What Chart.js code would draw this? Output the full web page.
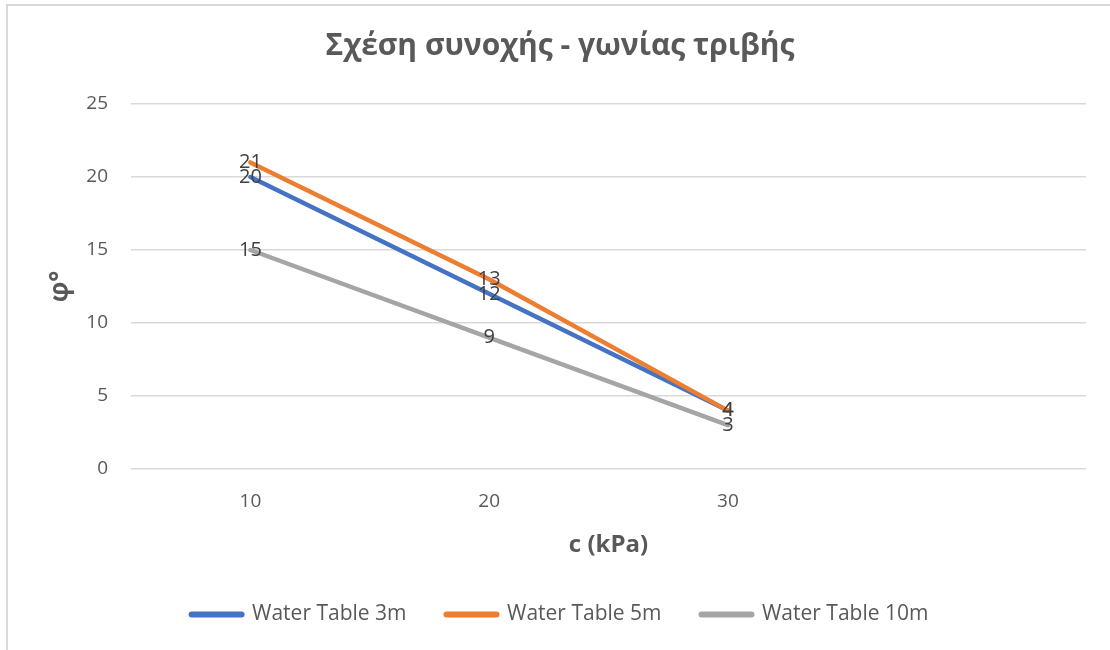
<!DOCTYPE html>
<html>
<head>
<meta charset="utf-8">
<script src="https://cdn.jsdelivr.net/npm/chart.js@4.4.1/dist/chart.umd.min.js"></script>
<style>
  html, body { margin: 0; padding: 0; background: #ffffff; }
  #wrap { width: 1110px; height: 650px; position: relative; }
</style>
</head>
<body>
<div id="wrap"><canvas id="chart" width="1110" height="650"></canvas></div>
<script>
// Cohesion c (kPa) on the category axis; the last slot is left empty.
const categories = ['10', '20', '30', ''];

// Friction angle φ° for each water table depth
const waterTable3m = [20, 12, 4];
const waterTable5m = [21, 13, 4];
const waterTable10m = [15, 9, 3];

const seriesNames = ['Water Table 3m', 'Water Table 5m', 'Water Table 10m'];
const seriesColors = ['#4472C4', '#ED7D31', '#A5A5A5'];

const yMin = 0;
const yMax = 25;
const yStep = 5;

const FONT = 'Open Sans';

// White background plus the light outer frame of the chart object
const framePlugin = {
  id: 'frame',
  beforeDraw(chart) {
    const ctx = chart.ctx;
    ctx.save();
    ctx.fillStyle = '#ffffff';
    ctx.fillRect(0, 0, chart.width, chart.height);
    ctx.strokeStyle = '#d9d9d9';
    ctx.lineWidth = 2;
    ctx.strokeRect(7, 5, chart.width + 20, chart.height + 20);
    ctx.restore();
  }
};

// Value labels centred on every point
const valueLabelPlugin = {
  id: 'valueLabels',
  afterDatasetsDraw(chart) {
    const ctx = chart.ctx;
    ctx.save();
    ctx.font = '20px "' + FONT + '"';
    ctx.fillStyle = '#404040';
    ctx.textAlign = 'center';
    ctx.textBaseline = 'middle';
    chart.data.datasets.forEach((ds, di) => {
      const meta = chart.getDatasetMeta(di);
      meta.data.forEach((pt, i) => {
        const v = ds.data[i];
        if (v === null || v === undefined) return;
        ctx.fillText(String(v), pt.x, pt.y);
      });
    });
    ctx.restore();
  }
};

const seriesData = [waterTable3m, waterTable5m, waterTable10m];

const datasets = seriesData.map((values, i) => ({
  label: seriesNames[i],
  data: values,
  borderColor: seriesColors[i],
  backgroundColor: seriesColors[i],
  borderWidth: 4.5,
  borderCapStyle: 'round',
  borderJoinStyle: 'round',
  pointRadius: 0,
  pointHoverRadius: 0,
  tension: 0,
  fill: false,
  // later series are painted above earlier ones
  order: seriesData.length - i
}));

new Chart(document.getElementById('chart'), {
  type: 'line',
  data: { labels: categories, datasets: datasets },
  plugins: [framePlugin, valueLabelPlugin],
  options: {
    responsive: false,
    animation: false,
    devicePixelRatio: 1,
    layout: { padding: { left: 34, right: 24, top: 0, bottom: 15 } },
    plugins: {
      title: {
        display: true,
        text: 'Σχέση συνοχής - γωνίας τριβής',
        color: '#595959',
        font: { family: FONT, size: 30, weight: 'bold' },
        padding: { top: 28, bottom: 40 }
      },
      legend: {
        position: 'bottom',
        labels: {
          usePointStyle: true,
          pointStyle: 'line',
          pointStyleWidth: 50,
          color: '#595959',
          font: { family: FONT, size: 21 },
          padding: 40,
          sort: (a, b) => a.datasetIndex - b.datasetIndex,
          generateLabels(chart) {
            const items = Chart.defaults.plugins.legend.labels.generateLabels(chart);
            items.forEach(it => { it.lineWidth = 6; it.lineCap = 'round'; });
            return items;
          }
        }
      },
      tooltip: { enabled: false }
    },
    scales: {
      x: {
        type: 'category',
        offset: true,
        grid: { display: false, drawTicks: false },
        border: { display: false },
        ticks: {
          color: '#595959',
          font: { family: FONT, size: 19 },
          padding: 21,
          maxRotation: 0,
          autoSkip: false
        },
        title: {
          display: true,
          text: 'c (kPa)',
          color: '#595959',
          font: { family: FONT, size: 24, weight: 'bold' },
          padding: { top: 0, bottom: 4 }
        },
        afterFit(scale) { scale.height = 95; }
      },
      y: {
        min: yMin,
        max: yMax,
        ticks: {
          stepSize: yStep,
          color: '#595959',
          font: { family: FONT, size: 19 },
          padding: 23
        },
        grid: { color: '#d9d9d9', lineWidth: 1.5, drawTicks: false },
        border: { display: false },
        title: {
          display: true,
          text: 'φ°',
          color: '#595959',
          font: { family: FONT, size: 26, weight: 'bold' },
          padding: { top: 11, bottom: 0 }
        },
        afterFit(scale) { scale.width = 97; }
      }
    }
  }
});
</script>
</body>
</html>
